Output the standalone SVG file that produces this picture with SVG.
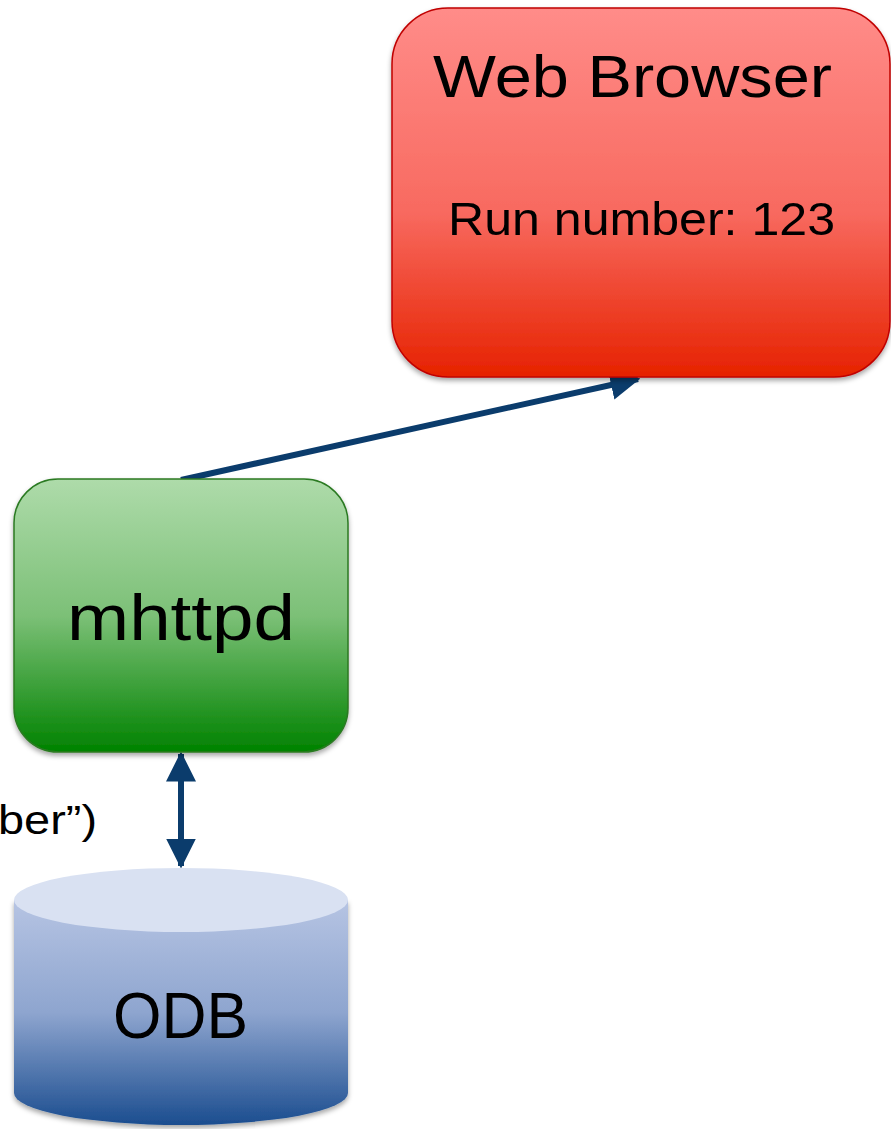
<svg xmlns="http://www.w3.org/2000/svg" width="891" height="1129" viewBox="0 0 891 1129">
  <style>
    .label { font-family: "Liberation Sans", "DejaVu Sans", sans-serif; fill: #000; }
    .conn { stroke: #0b3c6c; stroke-width: 6; fill: none; }
  </style>
  <defs>
    <linearGradient id="gRed" x1="0" y1="0" x2="0" y2="1">
      <stop offset="0" stop-color="#ff8c89"/>
      <stop offset="0.55" stop-color="#f86a60"/>
      <stop offset="1" stop-color="#e62200"/>
    </linearGradient>
    <linearGradient id="gGreen" x1="0" y1="0" x2="0" y2="1">
      <stop offset="0" stop-color="#aedbaa"/>
      <stop offset="0.5" stop-color="#7cc077"/>
      <stop offset="1" stop-color="#008200"/>
    </linearGradient>
    <linearGradient id="gBlue" x1="0" y1="0" x2="0" y2="1">
      <stop offset="0" stop-color="#b6c4e3"/>
      <stop offset="0.5" stop-color="#8ea5cf"/>
      <stop offset="1" stop-color="#1b4d8f"/>
    </linearGradient>
    <filter id="shadow" x="-10%" y="-10%" width="120%" height="125%">
      <feDropShadow dx="0" dy="3" stdDeviation="2.5" flood-color="#000" flood-opacity="0.35"/>
    </filter>
    <marker id="head" markerUnits="userSpaceOnUse" markerWidth="30" markerHeight="30" refX="22" refY="12" orient="auto-start-reverse" viewBox="0 0 24 24">
      <path d="M0,0 L24,12 L0,24 Z" fill="#0b3c6c"/>
    </marker>
  </defs>

  <!-- connectors -->
  <g id="connectors">
    <line class="conn" x1="181" y1="480" x2="638" y2="379" marker-end="url(#head)"/>
    <line class="conn" x1="181" y1="754" x2="181" y2="866" stroke-width="8" marker-start="url(#head)" marker-end="url(#head)"/>
  </g>

  <!-- browser node -->
  <g id="web-browser">
    <rect x="392" y="8" width="498" height="369" rx="56" ry="56" fill="url(#gRed)" stroke="#c00000" stroke-width="1.5" filter="url(#shadow)"/>
    <text class="label" x="433" y="97" font-size="60" textLength="399" lengthAdjust="spacingAndGlyphs">Web Browser</text>
    <text class="label" x="448" y="235" font-size="46" textLength="387" lengthAdjust="spacingAndGlyphs">Run number: 123</text>
  </g>

  <!-- web server node -->
  <g id="mhttpd">
    <rect x="14" y="479" width="334" height="273" rx="44" ry="44" fill="url(#gGreen)" stroke="#2b7a22" stroke-width="1.5" filter="url(#shadow)"/>
    <text class="label" x="67" y="640" font-size="64" textLength="228" lengthAdjust="spacingAndGlyphs">mhttpd</text>
  </g>

  <!-- partial caption -->
  <g id="caption">
    <text class="label" x="-2" y="834" font-size="40" textLength="99" lengthAdjust="spacingAndGlyphs">ber”)</text>
  </g>

  <!-- database node -->
  <g id="odb">
    <path d="M14,900 L14,1093 A167,32 0 0 0 348,1093 L348,900 Z" fill="url(#gBlue)" filter="url(#shadow)"/>
    <ellipse cx="181" cy="900" rx="167" ry="32" fill="#d9e1f2"/>
    <text class="label" x="113" y="1038" font-size="64" textLength="135" lengthAdjust="spacingAndGlyphs">ODB</text>
  </g>
</svg>
